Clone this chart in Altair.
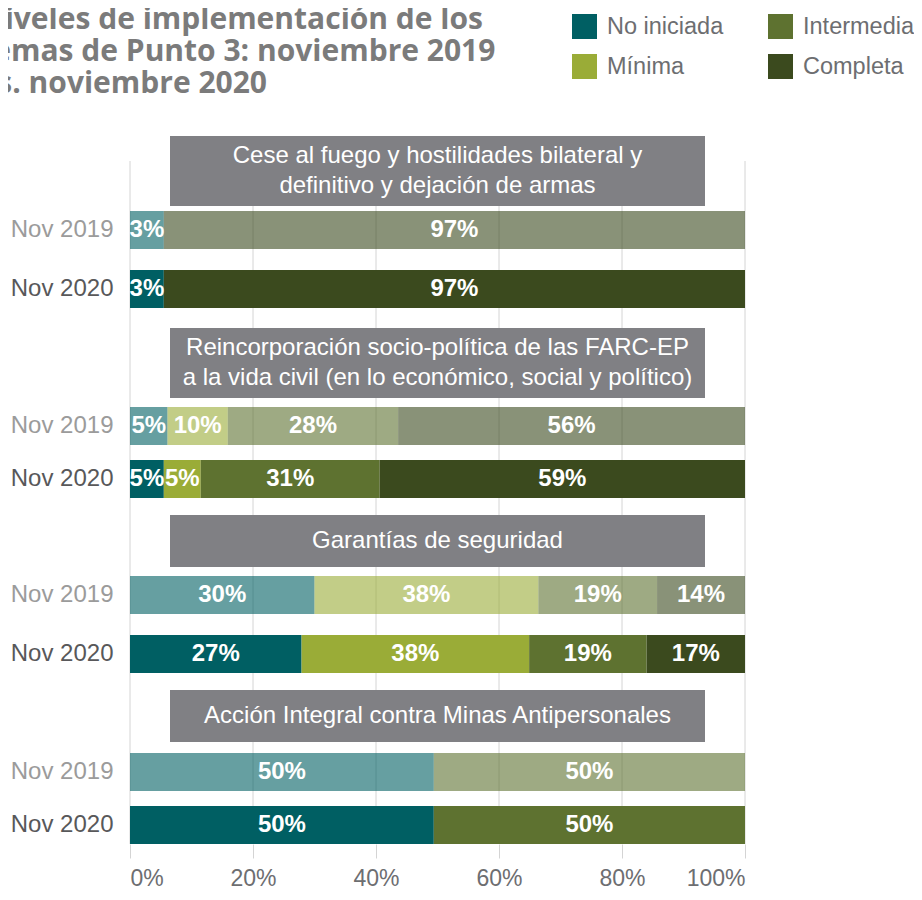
import altair as alt
import pandas as pd

# ---------------- data ----------------
temas = [
    "Cese al fuego y hostilidades bilateral y\ndefinitivo y dejación de armas",
    "Reincorporación socio-política de las FARC-EP\na la vida civil (en lo económico, social y político)",
    "Garantías de seguridad",
    "Acción Integral contra Minas Antipersonales",
]
periodos = ["Nov 2019", "Nov 2020"]
niveles = ["No iniciada", "Mínima", "Intermedia", "Completa"]
colores = ["#005F63", "#9AAC37", "#5E7230", "#3B4A1E"]

# bar lengths (% of the axis), one value per nivel
cese_2019 = [5.5, 0, 0, 94.5]
cese_2020 = [5.5, 0, 0, 94.5]
reinc_2019 = [6.1, 9.8, 27.7, 56.4]
reinc_2020 = [5.5, 6.0, 29.1, 59.4]
gar_2019 = [30.0, 36.4, 19.3, 14.3]
gar_2020 = [27.9, 37.0, 19.1, 16.0]
minas_2019 = [49.4, 0, 50.6, 0]
minas_2020 = [49.4, 0, 50.6, 0]

# printed labels
et_cese_2019 = ["3%", "", "", "97%"]
et_cese_2020 = ["3%", "", "", "97%"]
et_reinc_2019 = ["5%", "10%", "28%", "56%"]
et_reinc_2020 = ["5%", "5%", "31%", "59%"]
et_gar_2019 = ["30%", "38%", "19%", "14%"]
et_gar_2020 = ["27%", "38%", "19%", "17%"]
et_minas_2019 = ["50%", "", "50%", ""]
et_minas_2020 = ["50%", "", "50%", ""]

ticks = [0, 20, 40, 60, 80, 100]

series = [
    (cese_2019, et_cese_2019, cese_2020, et_cese_2020),
    (reinc_2019, et_reinc_2019, reinc_2020, et_reinc_2020),
    (gar_2019, et_gar_2019, gar_2020, et_gar_2020),
    (minas_2019, et_minas_2019, minas_2020, et_minas_2020),
]

rows = []
for ti, (v19, e19, v20, e20) in enumerate(series):
    for per, vals, ets in (("Nov 2019", v19, e19), ("Nov 2020", v20, e20)):
        for k, (v, e) in enumerate(zip(vals, ets)):
            if v > 0:
                rows.append({"tema": ti, "periodo": per, "nivel": niveles[k],
                             "orden": k, "valor": v, "etiqueta": e})
df = pd.DataFrame(rows)
ticks_df = pd.DataFrame({"t": ticks})

# ---------------- style ----------------
W = 615
BAR = 38
LH = 30
GRID = "#d4d4d4"
BOX = "#808084"
FONT = "Liberation Sans"

xs = alt.Scale(domain=[0, 100], nice=False, zero=False)

legend = alt.Legend(
    orient="none", legendX=442, legendY=-122, columns=2, title=None,
    symbolType="square", symbolSize=625, symbolStrokeWidth=0, symbolOpacity=1,
    labelFont=FONT, labelFontSize=23.5, labelColor="#6d6e71", labelOffset=10,
    rowPadding=15, columnPadding=44, labelLimit=300,
)


def cabecera(i, h, top, bot, gy0):
    d = pd.DataFrame({"tema": [temas[i]]})
    nl = temas[i].count("\n")
    grid = alt.Chart(ticks_df).mark_rule(color=GRID, strokeWidth=1).encode(
        x=alt.X("t:Q", scale=xs, axis=None), y=alt.value(gy0), y2=alt.value(h))
    box = alt.Chart(d).mark_rect(color=BOX).encode(
        x=alt.value(40), x2=alt.value(575), y=alt.value(top), y2=alt.value(bot))
    txt = alt.Chart(d).mark_text(
        lineBreak="\n", lineHeight=LH, font=FONT, fontSize=24, color="white",
        align="center", baseline="middle").encode(
        text="tema:N", x=alt.value(W / 2),
        y=alt.value((top + bot) / 2 - nl * LH / 2))
    return alt.layer(grid, box, txt).properties(width=W, height=h)


def barras(i, h, last):
    step = h - BAR
    pi = (step - BAR) / step
    sub = df[df.tema == i]
    yenc = alt.Y("periodo:N", sort=periodos,
                 scale=alt.Scale(domain=periodos, paddingInner=pi, paddingOuter=0),
                 axis=alt.Axis(title=None, ticks=False, domain=False, grid=False,
                               labelFont=FONT, labelFontSize=24, labelPadding=17,
                               labelColor={"expr": "datum.value == 'Nov 2019' ? '#9b9b9b' : '#58585a'"}))
    if last:
        xaxis = alt.Axis(values=ticks, title=None, grid=False, domain=False,
                         tickSize=14, tickColor=GRID, tickWidth=1,
                         labelExpr="datum.value + '%'", labelFont=FONT,
                         labelFontSize=23, labelColor="#6d6e71", labelPadding=9)
    else:
        xaxis = None
    grid = alt.Chart(ticks_df).mark_rule(color=GRID, strokeWidth=1).encode(
        x=alt.X("t:Q", scale=xs, axis=xaxis), y=alt.value(0), y2=alt.value(h))
    base = alt.Chart(sub).transform_stack(
        stack="valor", groupby=["periodo"], as_=["x0", "x1"],
        sort=[alt.SortField("orden", order="ascending")]
    ).transform_calculate(xm="(datum.x0 + datum.x1) / 2")
    bars = base.mark_bar(strokeWidth=0).encode(
        x=alt.X("x0:Q", scale=xs, axis=xaxis), x2="x1:Q", y=yenc,
        color=alt.Color("nivel:N", scale=alt.Scale(domain=niveles, range=colores),
                        legend=legend),
        opacity=alt.condition(alt.datum.periodo == "Nov 2019", alt.value(0.6), alt.value(1.0)),
    )
    txt = base.mark_text(font=FONT, fontSize=24, fontWeight="bold", color="white",
                         align="center", baseline="middle").encode(
        x=alt.X("xm:Q", scale=xs, axis=xaxis), y=yenc, text="etiqueta:N")
    return alt.layer(grid, bars, txt).properties(width=W, height=h)


chart = alt.vconcat(
    cabecera(0, 75, 0, 70, 25), barras(0, 97, False),
    cabecera(1, 99, 20, 90, 0), barras(1, 91, False),
    cabecera(2, 78, 17, 69, 0), barras(2, 97, False),
    cabecera(3, 80, 17, 69, 0), barras(3, 91, True),
    spacing=0, bounds="flush",
).properties(
    title=alt.TitleParams(
        text=["Niveles de implementación de los",
              "temas de Punto 3: noviembre 2019",
              "vs. noviembre 2020"],
        anchor="start", frame="bounds", font="Open Sans", fontSize=30,
        fontWeight="bold", color="#7b7b7b", lineHeight=32, dx=-30, dy=105,
        offset=20),
    padding={"left": -28, "top": -3, "right": -1, "bottom": 0},
).configure_view(stroke=None)

chart.save("out.html", embed_options={"renderer": "svg", "actions": False})
